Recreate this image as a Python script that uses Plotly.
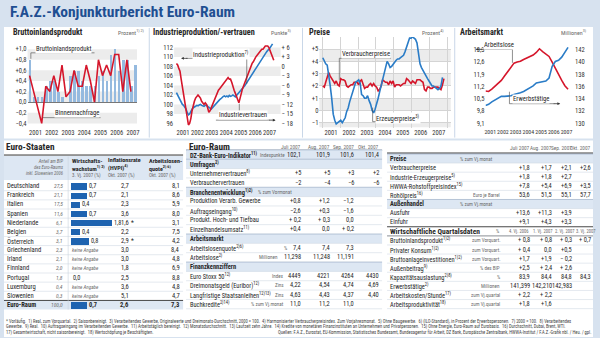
import pandas as pd
import plotly.graph_objects as go

W, H = 600, 338
FONT = "Roboto Condensed, DejaVu Sans Condensed, sans-serif"
RED = "#d5162b"
BLUE = "#2a7cc7"
BARC = "#95badf"
DARKBAR = "#1e63b0"
LB = "#dde7f3"
BG = "#d7e2ef"
TXT = "#262626"
GRAY = "#6a6a6a"
LINEC = "#c9d3df"
BAND = "#ececec"

# ------------------------------------------------------------------ data
years = ["2001", "2002", "2003", "2004", "2005", "2006", "2007"]

# Bruttoinlandsprodukt (quarterly, % to previous quarter) 2001Q1..2007Q3
bip_wachstum = [0.8, 0.1, 0.1, 0.1, 0.3, 0.4, 0.4, 0.2, 0.1, 0.0, 0.5, 0.6, 0.6, 0.4,
                0.3, 0.3, 0.3, 0.5, 0.6, 0.4, 0.9, 1.0, 0.6, 0.8, 0.8, 0.3, 0.7]
binnennachfrage = [0.5, 0.2, -0.1, -0.4, 0.3, 0.2, 0.5, 0.2, 0.7, 0.1, 0.2, 0.6, 0.3,
                   0.3, 0.7, 0.4, 0.0, 0.8, 0.5, 0.7, 0.5, 0.9, 0.9, 0.2, 0.8, 0.2]
bip_tickvals = [1.0, 0.8, 0.6, 0.4, 0.2, 0.0, -0.2, -0.4]
bip_ticktext = ["+1,0", "+0,8", "+0,6", "+0,4", "+0,2", "0,0", "\u22120,2", "\u22120,4"]

# Industrieproduktion (index, left axis) Jan 2001 .. Sep 2007
industrieproduktion = [
    102.5, 102.0, 101.5, 100.8, 100.5, 100.0, 99.8, 99.5, 99.0, 98.3, 97.8, 98.0,
    98.6, 99.0, 99.3, 99.4, 99.6, 99.8, 99.7, 99.9, 100.0, 99.8, 99.7, 99.6,
    99.8, 99.9, 99.6, 99.3, 99.2, 99.0, 99.3, 99.5, 99.9, 100.3, 100.6, 100.8,
    101.0, 101.2, 101.5, 101.7, 101.8, 101.6, 101.8, 101.6, 101.9, 101.7, 101.8, 102.0,
    101.8, 101.6, 101.9, 102.2, 102.4, 102.6, 102.9, 103.3, 103.6, 104.0, 104.4, 104.8,
    105.1, 105.5, 105.9, 106.3, 106.8, 107.2, 107.6, 108.0, 108.4, 108.8, 109.2, 109.6,
    110.0, 110.4, 110.8, 111.1, 111.4, 111.6, 112.0, 112.4, 112.8]
# Industrievertrauen (points, right axis) Jan 2001 .. Oct 2007
industrievertrauen = [
    1.0, 0.5, -0.5, -1.5, -4.0, -6.5, -9.0, -12.0, -14.5, -17.0, -18.5, -18.0,
    -16.5, -14.0, -12.0, -11.0, -10.0, -9.5, -9.0, -9.5, -10.0, -11.0, -11.5, -12.0,
    -11.5, -12.0, -13.0, -14.5, -14.0, -13.0, -12.0, -11.0, -10.0, -9.0, -8.0, -7.5,
    -7.0, -6.5, -6.0, -5.5, -5.0, -4.5, -4.0, -3.5, -4.0, -4.0, -5.0, -6.5,
    -7.5, -8.5, -9.5, -11.0, -11.5, -10.0, -8.0, -7.0, -6.0, -5.0, -3.5, -2.5,
    -1.5, -0.5, 0.0, 1.0, 1.5, 2.5, 3.0, 3.5, 4.0, 4.5, 5.0, 5.5,
    5.5, 6.0, 6.5, 6.5, 6.5, 6.0, 5.0, 4.0, 3.0, 2.0]
ind_left_ticks = [112, 110, 108, 106, 104, 102, 100, 98, 96]
ind_right_ticks = [6, 3, 0, -3, -6, -9, -12, -15, -18]
ind_right_text = ["+ 6", "+ 3", "0", "\u2212 3", "\u2212 6", "\u2212 9", "\u2212 12", "\u2212 15", "\u2212 18"]

# Preise (% to previous year) Jan 2001 .. Oct / Sep 2007
verbraucherpreise = [
    2.0, 1.9, 2.3, 2.7, 3.1, 2.8, 2.6, 2.4, 2.2, 2.4, 2.1, 2.0,
    2.6, 2.5, 2.5, 2.4, 2.0, 1.9, 2.0, 2.1, 2.1, 2.3, 2.3, 2.3,
    2.1, 2.4, 2.5, 2.1, 1.8, 1.9, 1.9, 2.1, 2.2, 2.0, 2.2, 2.0,
    1.9, 1.6, 1.7, 2.0, 2.5, 2.4, 2.3, 2.3, 2.1, 2.4, 2.2, 2.4,
    1.9, 2.1, 2.1, 2.1, 2.0, 2.1, 2.2, 2.2, 2.6, 2.5, 2.3, 2.2,
    2.4, 2.3, 2.2, 2.5, 2.5, 2.5, 2.4, 2.3, 1.7, 1.6, 1.9, 1.9,
    1.8, 1.8, 1.9, 1.9, 1.9, 1.9, 1.8, 1.7, 2.1, 2.6]
erzeugerpreise = [
    4.3, 4.0, 3.8, 3.7, 3.0, 2.0, 1.0, -0.3, -0.8, -1.1, -1.0, -0.9,
    -0.8, -1.0, -0.8, -0.6, -0.1, 0.2, 0.7, 1.1, 1.4, 1.8, 2.3, 2.4,
    2.5, 2.2, 1.3, 1.2, 1.0, 1.0, 1.2, 0.8, 0.5, 0.0, -0.2, 0.1,
    0.5, 1.0, 1.5, 2.0, 2.5, 3.0, 3.5, 4.0, 3.8, 3.5, 3.6, 3.8,
    4.0, 4.1, 4.2, 4.2, 4.3, 4.4, 4.5, 4.8, 5.2, 5.6, 5.9, 5.9,
    6.0, 5.9, 5.8, 5.5, 4.5, 3.8, 3.5, 3.3, 3.0, 2.8, 2.6, 2.4,
    2.2, 2.0, 2.0, 1.9, 1.8, 1.7, 1.8, 2.0, 2.7]
preise_ticks = [5, 4, 3, 2, 1, 0, -1]
preise_text = ["+5", "+4", "+3", "+2", "+1", "0", "\u22121"]

# Arbeitsmarkt (quarterly, millions)
arbeitslose = [10.95, 10.92, 11.05, 11.2, 11.35, 11.55, 11.8, 12.06, 12.35, 12.54, 12.6,
               12.65, 12.75, 12.82, 12.9, 13.0, 13.15, 13.36, 13.2, 13.05, 12.92, 12.6,
               12.25, 11.85, 11.55, 11.25, 11.05]
erwerbstaetige = [132.9, 133.1, 133.5, 133.8, 134.1, 134.4, 134.4, 134.4, 134.5, 134.7,
                  134.8, 135.0, 135.2, 135.5, 135.75, 136.1, 136.6, 136.7, 136.8, 136.9,
                  137.4, 139.3, 140.1, 140.3, 140.8, 141.7, 142.4]
al_ticks = [13.3, 12.6, 11.9, 11.2, 10.5, 9.8, 9.1]
al_text = ["13,3", "12,6", "11,9", "11,2", "10,5", "9,8", "9,1"]
et_ticks = [142, 140, 138, 136, 134, 132, 130]

# Euro-Staaten table
staaten = ["Deutschland", "Frankreich", "Italien", "Spanien", "Niederlande", "Belgien",
           "\u00d6sterreich", "Griechenland", "Irland", "Finnland", "Portugal",
           "Luxemburg", "Slowenien", "Euro-Raum"]
bip_anteil = ["27,5", "21,1", "17,5", "11,6", "6,1", "3,7", "3,1", "2,3", "2,1", "2,0",
              "1,8", "0,4", "0,3", "100,0"]
wachstum_q3 = [0.7, 0.7, 0.4, 0.7, 1.8, 0.4, 0.8, None, None, None, 0.0, None, None, 0.7]
inflation_okt = ["2,7", "2,1", "2,3", "3,6", "1,6*", "2,2", "2,9*", "3,0", "3,0", "1,8",
                 "2,5", "3,6", "5,1", "2,6"]
alq_okt = ["8,1", "8,6", "5,9", "8,0", "3,1", "7,5", "4,2", "8,4", "4,8", "6,9", "8,8",
           "4,8", "4,7", "7,3"]

# Euro-Raum table
ez_months = ["Juli 2007", "Aug. 2007", "Sep. 2007", "Okt. 2007"]
ez_kind = ["head", "sec", "row", "row", "sec", "row", "row", "row", "row",
           "sec", "row", "row", "sec", "row", "row", "row", "row"]
ez_labels = ["DZ-Bank-Euro-Indikator<sup>11)</sup>", "Umfragen<sup>2)</sup>",
             "Unternehmervertrauen<sup>8)</sup>", "Verbrauchervertrauen",
             "Branchenentwicklung<sup>1)2)</sup>", "Produktion Verarb. Gewerbe",
             "Auftragseingang<sup>10)</sup>", "Produkt. Hoch- und Tiefbau",
             "Einzelhandelsumsatz<sup>11)</sup>", "Arbeitsmarkt",
             "Arbeitslosenquote<sup>2)6)</sup>", "Arbeitslose<sup>2)</sup>",
             "Finanzkennziffern", "Euro Stoxx 50<sup>12)</sup>",
             "Dreimonatsgeld (Euribor)<sup>12)</sup>",
             "Langfristige Staatsanleihen<sup>12)13)</sup>", "Buchkredite<sup>2)14)</sup>"]
ez_units = ["Indexpunkte", "", "", "", "% zum Vormonat", "", "", "", "", "", "%",
            "Millionen", "", "Index", "Zins", "Zins", "% zum Vj.monat"]
ez_values = [["102,1", "101,9", "101,6", "101,4"], [], ["+5", "+5", "+3", "+2"],
             ["\u22122", "\u22124", "\u22126", "\u22126"], [],
             ["+0,8", "+1,2", "\u22121,2"], ["\u22122,6", "+0,3", "\u22121,6"],
             ["+ 0,2", "+ 0,3", "0,0"], ["+0,4", "0,0", "+ 0,2"], [],
             ["7,4", "7,4", "7,3"], ["11,298", "11,248", "11,191"], [],
             ["4449", "4221", "4264", "4430"], ["4,22", "4,54", "4,74", "4,69"],
             ["4,63", "4,43", "4,37", "4,40"], ["11,0", "11,2", "11,0"]]

# right table
rt_quarters = ["4. Vj. 2006", "1. Vj. 2007", "2. Vj. 2007", "3. Vj. 2007"]
rt_kind = ["sec", "row", "row", "row", "row", "sec", "row", "row", "big",
           "row", "row", "row", "row", "row", "row", "row", "row"]
rt_labels = ["Preise", "Verbraucherpreise", "Industrie-Erzeugerpreise<sup>5)</sup>",
             "HWWA-Rohstoffpreisindex<sup>15)</sup>", "Roh\u00f6lpreis<sup>16)</sup>",
             "Au\u00dfenhandel", "Ausfuhr", "Einfuhr", "Wirtschaftliche Quartalsdaten",
             "Bruttoinlandsprodukt<sup>1)2)</sup>", "Privater Konsum<sup>1)2)</sup>",
             "Bruttoanlageinvestitionen<sup>1)2)</sup>", "Au\u00dfenbeitrag<sup>9)</sup>",
             "Kapazit\u00e4tsauslastung<sup>2)8)</sup>", "Erwerbst\u00e4tige<sup>2)</sup>",
             "Arbeitskosten/Stunde<sup>17)</sup>", "Arbeitsproduktivit\u00e4t<sup>18)</sup>"]
rt_units = ["% zum Vj.monat", "", "", "", "Euro je Barrel", "% zum Vj.monat", "", "", "%",
            "zum Vorquart.", "zum Vorquart.", "zum Vorquart.", "% des BIP", "%",
            "Millionen", "zum Vj.quartal", "zum Vj.quartal"]
rt_values = [[], ["+1,8", "+1,7", "+2,1", "+2,6"], ["+1,8", "+1,8", "+2,7"],
             ["+7,8", "+5,4", "+6,9", "+3,5"], ["53,6", "51,5", "55,1", "57,7"], [],
             ["+13,6", "+11,3", "+3,9"], ["+9,1", "+4,3", "+3,3"], [],
             ["+ 0,8", "+ 0,8", "+ 0,3", "+ 0,7"], ["+ 0,4", "0,0", "+0,5"],
             ["+1,7", "+1,9", "\u2212 0,2"], ["+2,5", "+ 2,4", "+ 2,6"],
             ["83,9", "84,4", "84,8", "84,3"], ["141,399", "142,210", "142,983"],
             ["+ 2,2", "+ 2,2"], ["+1,8", "+1,6"]]

footnotes = [
    "* Vorl\u00e4ufig.  1) Real, zum Vorquartal.  2) Saisonbereinigt.  3) Verarbeitendes Gewerbe, Originalwerte und Dreimonats-Durchschnitt, 2000 = 100.  4) Harmonisierter Verbraucherpreisindex. Zum Vorjahresmonat.  5) Ohne Baugewerbe.  6) (ILO-Standard), in Prozent der Erwerbspersonen.  7) 2000 = 100.  8) Verarbeitendes",
    "Gewerbe.  9) Real.  10) Auftragseingang im Verarbeitenden Gewerbe.  11) Arbeitst\u00e4glich bereinigt.  12) Monatsdurchschnitt.  13) Laufzeit zehn Jahre.  14) Kredite von monet\u00e4ren Finanzinstituten an Unternehmen und Privatpersonen.  15) Ohne Energie, Euro-Raum auf Eurobasis.  16) Durchschnitt, Dubai, Brent, WTI.",
    "17) Gesamtwirtschaft, nicht saisonbereinigt.  18) Wertsch\u00f6pfung je Besch\u00e4ftigten.",
]
quellen = "Quellen: F.A.Z., Eurostat, EU-Kommission, Statistisches Bundesamt, Bundesagentur f\u00fcr Arbeit, DZ Bank, Europ\u00e4ische Zentralbank, HWWA-Institut / F.A.Z.-Grafik nbl. / Heu. / gpl."

# ------------------------------------------------------------------ helpers
q_dates = pd.date_range("2001-01-01", periods=len(bip_wachstum), freq="QS") + pd.Timedelta(days=45)
m_dates = pd.date_range("2001-01-01", periods=len(industrievertrauen), freq="MS") + pd.Timedelta(days=14)
year_ticks = [f"{y}-07-01" for y in years]


def dx(a, b):
    return [a / W, b / W]


def dy(top, bottom):
    return [1 - bottom / H, 1 - top / H]


shapes = []
anns = []


def rect(x0, y0, x1, y1, color, layer="below"):
    shapes.append(dict(type="rect", xref="paper", yref="paper", x0=x0 / W, x1=x1 / W,
                       y0=1 - y1 / H, y1=1 - y0 / H, fillcolor=color, line=dict(width=0),
                       layer=layer))


def line(x0, y0, x1, y1, color=LINEC, w=0.6, layer="below"):
    shapes.append(dict(type="line", xref="paper", yref="paper", x0=x0 / W, x1=x1 / W,
                       y0=1 - y0 / H, y1=1 - y1 / H, line=dict(color=color, width=w),
                       layer=layer))


def T(x, y, text, anchor="left", size=6.6, color=TXT, weight="normal", style="normal",
      bg=None, xref="x6", yref="y8", xshift=0, align="left"):
    a = dict(xref=xref, yref=yref, x=x, y=y, text=text, showarrow=False, xanchor=anchor,
             yanchor="middle", borderpad=0, xshift=xshift, align=align,
             font=dict(family=FONT, size=size, color=color, weight=weight, style=style))
    if bg:
        a["bgcolor"] = bg
    anns.append(a)


def arrow(x, y, ax, ay):
    anns.append(dict(xref="x6", yref="y8", x=x, y=y, ax=ax, ay=ay, text="", showarrow=True,
                     arrowhead=2, arrowsize=0.7, arrowwidth=0.8, arrowcolor="#333"))


fig = go.Figure()

# ------------------------------------------------------------------ backgrounds
rect(3, 27, 595, 139, "white")
rect(3, 141, 595, 338, "white")
for xs in (149, 303, 456):
    line(xs, 28, xs, 138, color="#c9d7e8", w=1)

# ------------------------------------------------------------------ panel 1
fig.add_trace(go.Bar(x=q_dates, y=bip_wachstum, marker_color=BARC, marker_line_width=0,
                     width=60 * 86400000, xaxis="x", yaxis="y", showlegend=False))
fig.add_trace(go.Scatter(x=q_dates[:len(binnennachfrage)], y=binnennachfrage, mode="lines",
                         line=dict(color=RED, width=1.6), xaxis="x", yaxis="y",
                         showlegend=False))
for lo, hi in [(0.8, 1.0), (0.4, 0.6), (0.0, 0.2), (-0.4, -0.2)]:
    shapes.append(dict(type="rect", xref="x domain", yref="y", x0=0, x1=1, y0=lo, y1=hi,
                       fillcolor=BAND, line=dict(width=0), layer="below"))

# ------------------------------------------------------------------ panel 2
fig.add_trace(go.Scatter(x=m_dates[:len(industrieproduktion)], y=industrieproduktion,
                         mode="lines", line=dict(color=BLUE, width=1.6), xaxis="x2",
                         yaxis="y2", showlegend=False))
fig.add_trace(go.Scatter(x=m_dates[:len(industrievertrauen)], y=industrievertrauen,
                         mode="lines", line=dict(color=RED, width=1.6), xaxis="x2",
                         yaxis="y3", showlegend=False))
for lo, hi in [(110, 112), (106, 108), (102, 104), (98, 100)]:
    shapes.append(dict(type="rect", xref="x2 domain", yref="y2", x0=0, x1=1, y0=lo, y1=hi,
                       fillcolor=BAND, line=dict(width=0), layer="below"))

# ------------------------------------------------------------------ panel 3
fig.add_trace(go.Scatter(x=m_dates[:len(verbraucherpreise)], y=verbraucherpreise,
                         mode="lines", line=dict(color=RED, width=1.6), xaxis="x3",
                         yaxis="y4", showlegend=False))
fig.add_trace(go.Scatter(x=m_dates[:len(erzeugerpreise)], y=erzeugerpreise,
                         mode="lines", line=dict(color=BLUE, width=1.6), xaxis="x3",
                         yaxis="y4", showlegend=False))
for lo, hi in [(4, 5), (2, 3), (0, 1), (-1.4, -1)]:
    shapes.append(dict(type="rect", xref="x3 domain", yref="y4", x0=0, x1=1, y0=lo, y1=hi,
                       fillcolor=BAND, line=dict(width=0), layer="below"))

# ------------------------------------------------------------------ panel 4
fig.add_trace(go.Scatter(x=q_dates[:len(arbeitslose)], y=arbeitslose, mode="lines",
                         line=dict(color=RED, width=1.6), xaxis="x4", yaxis="y5",
                         showlegend=False))
fig.add_trace(go.Scatter(x=q_dates[:len(erwerbstaetige)], y=erwerbstaetige, mode="lines",
                         line=dict(color=BLUE, width=1.6), xaxis="x4", yaxis="y6",
                         showlegend=False))

# ------------------------------------------------------------------ mini bars
rows_idx = list(range(len(staaten)))
bar_y = [i for i, v in zip(rows_idx, wachstum_q3) if v is not None]
bar_v = [v for v in wachstum_q3 if v is not None]
fig.add_trace(go.Bar(x=bar_v, y=bar_y, orientation="h", marker_color=DARKBAR,
                     marker_line_width=0, width=0.68, xaxis="x5", yaxis="y7",
                     showlegend=False, hoverinfo="skip"))
for i, v in zip(bar_y, bar_v):
    s = f"{v:.1f}".replace(".", ",")
    last = staaten[i] == "Euro-Raum"
    T(v, i, s, size=6.3, weight="bold" if last else "normal", xref="x5", yref="y7",
      xshift=1.5)

# ------------------------------------------------------------------ chart texts
T(8, 12.5, "F.A.Z.-Konjunkturbericht Euro-Raum", size=15.5, color="#1f4f92", weight="bold")

tfs = 8.2
T(11, 32, "Bruttoinlandsprodukt", size=tfs, weight="bold")
T(146, 32, "Prozent<sup>1) 2)</sup>", anchor="right", size=6, color=GRAY)
T(152, 32, "Industrieproduktion/-vertrauen", size=tfs, weight="bold")
T(293, 32, "Punkte<sup>3)</sup>", anchor="right", size=6, color=GRAY)
T(309, 32, "Preise", size=tfs, weight="bold")
T(446, 32, "Prozent<sup>4)</sup>", anchor="right", size=6, color=GRAY)
T(460, 32, "Arbeitsmarkt", size=tfs, weight="bold")
T(590, 32, "Millionen<sup>3)</sup>", anchor="right", size=6, color=GRAY)

lf = 6.7
T(34, 49, "Bruttoinlandsprodukt", size=lf, bg="white")
line(30, 53, 94, 53, color="#444", w=0.6, layer="above")
line(30, 53, 30, 59, color="#444", w=0.6, layer="above")
T(53, 113, "Binnennachfrage", size=lf, bg="white")
line(42, 118, 100, 118, color="#444", w=0.6, layer="above")

T(192, 54, "Industrieproduktion<sup>7)</sup>", size=lf, bg="white")
line(186, 58.5, 247, 58.5, color="#444", w=0.6, layer="above")
line(247, 58.5, 247, 84, color="#444", w=0.6, layer="above")
arrow(181, 58.5, 8, 0)
T(218, 115, "Industrievertrauen", size=lf, bg="white")
line(216, 120.5, 270, 120.5, color="#444", w=0.6, layer="above")
line(239.5, 104, 239.5, 111, color="#444", w=0.6, layer="above")
arrow(276, 120.5, -8, 0)

T(342, 54, "Verbraucherpreise", size=lf, bg="white")
line(340, 58.5, 392, 58.5, color="#444", w=0.6, layer="above")
line(340, 58.5, 340, 80, color="#444", w=0.6, layer="above")
T(376, 118, "Erzeugerpreise<sup>3)</sup>", size=lf, bg="white")
line(373.5, 122, 418, 122, color="#444", w=0.6, layer="above")
line(373.5, 108, 373.5, 122, color="#444", w=0.6, layer="above")

T(484, 45.5, "Arbeitslose", size=lf, bg="white")
line(482, 49.5, 514, 49.5, color="#444", w=0.6, layer="above")
line(514, 49.5, 514, 63, color="#444", w=0.6, layer="above")
arrow(477, 49.5, 8, 0)
T(514, 99, "Erwerbst\u00e4tige", size=lf, bg="white")
line(511, 104, 556, 104, color="#444", w=0.6, layer="above")
line(511, 92, 511, 104, color="#444", w=0.6, layer="above")
arrow(562, 104, -8, 0)

# ------------------------------------------------------------------ Euro-Staaten table
fs = 6.6
T(4, 147, "Euro-Staaten", size=9.3, weight="bold")
line(3, 155.5, 183, 155.5, color="#333", w=1)
rect(3, 156.5, 183, 180.5, LB)
T(63, 168, "Anteil am BIP<br>des Euro-Raums<br>inkl. Slowenien 2006", anchor="right",
  size=4.7, color=GRAY, style="italic", align="right")
hf = 6.1
T(70, 164.5, "Wirtschafts-<br>wachstum<sup>1) 2)</sup>", size=hf, weight="bold")
T(70, 176.3, "3. Vj. 2007 (%)", size=5.0, color=GRAY)
T(107, 164.5, "Inflationsrate<br>(HVPI)<sup>4)</sup>", size=hf, weight="bold")
T(107, 176.3, "Okt. 2007 (%)", size=5.0, color=GRAY)
T(148, 164.5, "Arbeitslosen-<br>quote<sup>2) 6)</sup>", size=hf, weight="bold")
T(148, 176.3, "Okt. 2007 (%)", size=5.0, color=GRAY)

RL0, RLH = 186.7, 9.17
n = len(staaten)
for i in range(n):
    y = RL0 + i * RLH
    last = staaten[i] == "Euro-Raum"
    if last:
        rect(3, y - RLH / 2, 183, y + RLH / 2, LB)
        line(3, y - RLH / 2, 183, y - RLH / 2, color="#333", w=0.9)
    elif i > 0:
        line(3, y - RLH / 2, 183, y - RLH / 2, color=LINEC, w=0.5)
    wt = "bold" if last else "normal"
    T(5, y, staaten[i], size=fs, weight=wt)
    T(63, y, bip_anteil[i], anchor="right", size=5.5, color=GRAY, style="italic")
    if wachstum_q3[i] is None:
        T(70, y, "keine Angabe", size=5.1, color=GRAY, style="italic")
    inf = inflation_okt[i]
    if inf.endswith("*"):
        T(130, y, inf[:-1], anchor="right", size=fs, weight=wt)
        T(129.6, y, "*", anchor="left", size=fs, weight=wt)
    else:
        T(130, y, inf, anchor="right", size=fs, weight=wt)
    T(181, y, alq_okt[i], anchor="right", size=fs, weight=wt)
line(67.5, 157, 67.5, RL0 + (n - 0.5) * RLH, color=LINEC, w=0.6)

# ------------------------------------------------------------------ Euro-Raum table
mfs = 6.4
MX = [303, 332, 356, 381]
T(188, 147, "Euro-Raum", size=9.3, weight="bold")
for j, m in enumerate(ez_months):
    T(MX[j], 147, m, anchor="right", size=5.3, color=GRAY)
line(186, 150.8, 383, 150.8, color="#333", w=1)
RM0, RMH = 155, 9.375
for i, lab in enumerate(ez_labels):
    y = RM0 + i * RMH
    k = ez_kind[i]
    if k in ("head", "sec"):
        rect(186, y - RMH / 2, 383, y + RMH / 2, LB)
        line(186, y - RMH / 2, 383, y - RMH / 2, color="#8ea3bd", w=0.6)
    else:
        line(186, y - RMH / 2, 383, y - RMH / 2, color=LINEC, w=0.5)
    T(189, y, lab, size=mfs, weight="bold" if k in ("head", "sec") else "normal")
    u = ez_units[i]
    vals = ez_values[i]
    if u:
        if k == "head":
            T(259, y, u, size=5.1, color=GRAY)
        elif k == "sec":
            T(257, y, u, size=5.1, color=GRAY)
        else:
            ux = min(288, MX[0] - len(vals[0]) * 3.3 - 4) if vals else 288
            T(ux, y, u, anchor="right", size=5.1, color=GRAY)
    for j, v in enumerate(vals):
        T(MX[j], y, v, anchor="right", size=mfs)
line(186, RM0 + (len(ez_labels) - 0.5) * RMH, 383, RM0 + (len(ez_labels) - 0.5) * RMH,
     color=LINEC, w=0.5)

# ------------------------------------------------------------------ right table
rfs = 6.4
RX = [533, 555, 575, 594]
QX = [521, 545, 567, 588]
for j, m in enumerate(ez_months):
    T(RX[j], 148, m, anchor="right", size=5.3, color=GRAY)
line(388, 153.5, 595, 153.5, color="#333", w=1)
RR0, RRH = 159, 9.125
for i, lab in enumerate(rt_labels):
    y = RR0 + i * RRH
    k = rt_kind[i]
    if k in ("sec",):
        rect(388, y - RRH / 2, 595, y + RRH / 2, LB)
        line(388, y - RRH / 2, 595, y - RRH / 2, color="#8ea3bd", w=0.6)
    elif k == "big":
        line(388, y - RRH / 2, 595, y - RRH / 2, color="#333", w=0.9)
        line(388, y + RRH / 2, 595, y + RRH / 2, color="#333", w=0.6)
    else:
        line(388, y - RRH / 2, 595, y - RRH / 2, color=LINEC, w=0.5)
    if k == "big":
        T(390, y, lab, size=7.5, weight="bold")
        T(496, y, rt_units[i], size=5.1, color=GRAY)
        for j, q in enumerate(rt_quarters):
            T(QX[j], y, q, anchor="center", size=4.6, color=GRAY)
        continue
    T(390, y, lab, size=rfs, weight="bold" if k == "sec" else "normal")
    u = rt_units[i]
    if u:
        if k == "sec":
            T(460, y, u, size=5.1, color=GRAY)
        else:
            T(503, y, u, anchor="right", size=5.1, color=GRAY)
    for j, v in enumerate(rt_values[i]):
        T(RX[j], y, v, anchor="right", size=rfs)
line(388, RR0 + (len(rt_labels) - 0.5) * RRH, 595, RR0 + (len(rt_labels) - 0.5) * RRH,
     color=LINEC, w=0.5)

# ------------------------------------------------------------------ footnotes
for i, ftxt in enumerate(footnotes):
    T(4, 322.5 + i * 5.3, ftxt, size=4.55, color="#444")
T(594, 333.1, quellen, anchor="right", size=4.55, color="#444")

# ------------------------------------------------------------------ layout
tickf = dict(family=FONT, size=6.6, color="#333")


def xax(dom, rng, anchor, fsz=6.6, **kw):
    d = dict(domain=dom, range=rng, anchor=anchor, type="date", tickmode="array",
             tickvals=year_ticks, ticktext=years, showgrid=False, zeroline=False,
             showline=False, ticks="", tickangle=0,
             tickfont=dict(family=FONT, size=fsz, color="#333"), fixedrange=True)
    d.update(kw)
    return d


def yax(dom, rng, anchor, vals, text=None, **kw):
    d = dict(domain=dom, range=rng, anchor=anchor, tickmode="array", tickvals=vals,
             ticktext=text if text is not None else [str(v) for v in vals],
             showgrid=False, zeroline=False, showline=False, ticks="", tickfont=tickf,
             fixedrange=True)
    d.update(kw)
    return d


fig.update_layout(
    width=W, height=H, margin=dict(l=0, r=0, t=0, b=0),
    paper_bgcolor=BG, plot_bgcolor="rgba(0,0,0,0)", bargap=0, showlegend=False,
    xaxis=xax(dx(26.7, 136.7), ["2001-01-01", "2007-10-01"], "y"),
    yaxis=yax(dy(44, 128), [-0.48, 1.1], "x", bip_tickvals, bip_ticktext,
              zeroline=True, zerolinecolor="#777", zerolinewidth=0.8),
    xaxis2=xax(dx(174, 281), ["2000-11-18", "2008-04-05"], "y2"),
    yaxis2=yax(dy(43, 128), [95.1, 113], "x2", ind_left_ticks),
    yaxis3=yax(dy(43, 128), [-19.35, 7.5], "x2", ind_right_ticks, ind_right_text,
               overlaying="y2", side="right"),
    xaxis3=xax(dx(320, 452), ["2000-11-07", "2008-03-01"], "y4",
               minor=dict(tickmode="linear", tick0="2001-01-01", dtick="M12",
                          showgrid=True, gridcolor="#d4d4d4", gridwidth=0.6)),
    yaxis4=yax(dy(37, 128), [-1.4, 6.0], "x3", preise_ticks, preise_text,
               showgrid=True, gridcolor="#d4d4d4", gridwidth=0.6),
    xaxis4=xax(dx(487, 576), ["2001-02-17", "2008-02-06"], "y5", fsz=5.9),
    yaxis5=yax(dy(44, 127), [8.91, 13.64], "x4", al_ticks, al_text),
    yaxis6=yax(dy(44, 127), [129.46, 142.97], "x4", et_ticks,
               overlaying="y5", side="right"),
    xaxis5=dict(domain=dx(70, 118), range=[0, 2.1], anchor="y7", visible=False,
                fixedrange=True),
    yaxis7=dict(domain=dy(RL0 - RLH / 2, RL0 + (n - 0.5) * RLH), range=[n - 0.5, -0.5],
                anchor="x5", visible=False, fixedrange=True),
    xaxis6=dict(domain=[0, 1], range=[0, W], anchor="y8", visible=False, fixedrange=True),
    yaxis8=dict(domain=[0, 1], range=[H, 0], anchor="x6", visible=False, fixedrange=True),
    shapes=shapes, annotations=anns,
)

fig.write_html("out.html")
